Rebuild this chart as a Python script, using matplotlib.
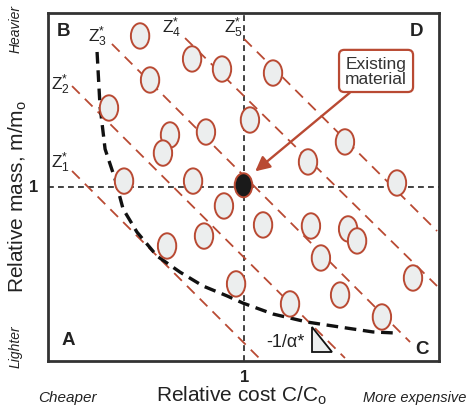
import numpy as np
import matplotlib.pyplot as plt
from matplotlib.patches import Ellipse, Polygon

plt.rcParams['font.family'] = ['Liberation Sans', 'DejaVu Sans']
plt.rcParams['mathtext.fontset'] = 'custom'
plt.rcParams['mathtext.rm'] = 'Liberation Sans'
plt.rcParams['mathtext.it'] = 'Liberation Sans:italic'

RED = '#b94a33'
GREY = '#eceeee'

# candidate materials (relative cost, relative mass)
cost = [0.471, 0.737, 0.890, 0.522, 0.312, 0.624, 0.588, 0.808, 0.389, 0.742,
        1.033, 1.151, 1.519, 1.330, 1.785, 0.900, 0.798, 0.609, 0.962, 1.100,
        1.345, 1.535, 1.581, 1.396, 1.867, 1.494, 1.238, 1.708]
mass = [1.868, 1.736, 1.678, 1.615, 1.454, 1.299, 1.195, 1.316, 1.034, 1.034,
        1.385, 1.655, 1.259, 1.144, 1.023, 0.891, 0.718, 0.661, 0.443, 0.782,
        0.776, 0.759, 0.690, 0.592, 0.477, 0.379, 0.328, 0.253]
existing = (1.0, 1.01)

# iso-penalty lines Z1*..Z5*  (start, end)
z_names = ['1', '2', '3', '4', '5']
z_x0 = [0.123, 0.123, 0.327, 0.701, 1.003]
z_y0 = [1.092, 1.580, 1.822, 1.856, 1.851]
z_x1 = [1.095, 1.519, 1.852, 1.990, 1.990]
z_y1 = [0.000, 0.017, 0.109, 0.431, 0.747]
z_lab_x = [0.066, 0.066, 0.251, 0.634, 0.951]
z_lab_y = [1.144, 1.592, 1.868, 1.920, 1.920]

# trade-off surface
front_x = [0.251, 0.266, 0.292, 0.343, 0.384, 0.455, 0.558, 0.675, 0.793, 0.916,
           0.997, 1.151, 1.325, 1.494, 1.662, 1.775]
front_y = [1.776, 1.465, 1.218, 1.046, 0.874, 0.741, 0.603, 0.511, 0.431, 0.374,
           0.333, 0.270, 0.224, 0.195, 0.167, 0.161]

fig = plt.figure(figsize=(4.68, 4.10), dpi=100)
ax = fig.add_axes([48 / 468, 48 / 410, 391 / 468, 348 / 410])
ax.set_xlim(0, 2)
ax.set_ylim(0, 2)
ax.set_xticks([])
ax.set_yticks([])
for s in ax.spines.values():
    s.set_linewidth(2)
    s.set_color('#333333')

# crosshair through existing material
ax.axvline(1, color='#222222', lw=1.2, ls=(0, (3.5, 2.5)), zorder=1)
ax.axhline(1, color='#222222', lw=1.2, ls=(0, (3.5, 2.5)), zorder=1)

for i in range(5):
    ax.plot([z_x0[i], z_x1[i]], [z_y0[i], z_y1[i]], color=RED, lw=1.3,
            ls=(0, (6, 4)), zorder=2)
    ax.text(z_lab_x[i], z_lab_y[i],
            r'Z$_\mathregular{%s}^\mathregular{*}$' % z_names[i],
            fontsize=12.5, color='#222222', ha='center', va='center')

ax.plot(front_x, front_y, color='#111111', lw=2.4, ls=(0, (3.5, 2)), zorder=3)

for cx, my in zip(cost, mass):
    ax.add_patch(Ellipse((cx, my), 0.094, 0.146, facecolor=GREY,
                         edgecolor=RED, lw=1.4, zorder=4))
ax.add_patch(Ellipse(existing, 0.09, 0.138, facecolor='#1a1a1a',
                     edgecolor=RED, lw=1.4, zorder=5))

ax.annotate('Existing\nmaterial', xy=(1.06, 1.09), xytext=(1.678, 1.667),
            fontsize=12.5, color='#333333', ha='center', va='center',
            linespacing=1.0,
            bbox=dict(boxstyle='round,pad=0.35,rounding_size=0.3', fc='white',
                      ec=RED, lw=1.6),
            arrowprops=dict(arrowstyle='-|>,head_length=0.7,head_width=0.35',
                            color=RED, lw=1.7, shrinkA=0, shrinkB=0),
            zorder=6)

# slope marker
tri = Polygon([[1.350, 0.195], [1.350, 0.052], [1.453, 0.052]], closed=True,
              facecolor=GREY, edgecolor='#111111', lw=1.3, zorder=6)
ax.add_patch(tri)
ax.text(1.215, 0.11, u'-1/\u03b1*', fontsize=13, color='#222222',
        ha='center', va='center')

for lab, lx, ly in [('B', 0.077, 1.897), ('D', 1.887, 1.897),
                    ('A', 0.102, 0.126), ('C', 1.913, 0.069)]:
    ax.text(lx, ly, lab, fontsize=13.5, fontweight='bold', color='#222222',
            ha='center', va='center')

fig.text(0.038, 0.52, r'Relative mass, m/m$_\mathregular{o}$', rotation=90,
         fontsize=15, ha='center', va='center', color='#222222')
fig.text(0.515, 0.034, r'Relative cost C/C$_\mathregular{o}$', fontsize=15,
         ha='center', va='center', color='#222222')
fig.text(0.072, 0.543, '1', fontsize=12, fontweight='bold', ha='center',
         va='center', color='#222222')
fig.text(0.522, 0.080, '1', fontsize=12, fontweight='bold', ha='center',
         va='center', color='#222222')
fig.text(0.033, 0.93, 'Heavier', rotation=90, style='italic', fontsize=10,
         ha='center', va='center', color='#222222')
fig.text(0.033, 0.155, 'Lighter', rotation=90, style='italic', fontsize=10,
         ha='center', va='center', color='#222222')
fig.text(0.145, 0.029, 'Cheaper', style='italic', fontsize=11,
         ha='center', va='center', color='#222222')
fig.text(0.996, 0.029, 'More expensive', style='italic', fontsize=10.5,
         ha='right', va='center', color='#222222')

fig.savefig('out.png', dpi=100)
